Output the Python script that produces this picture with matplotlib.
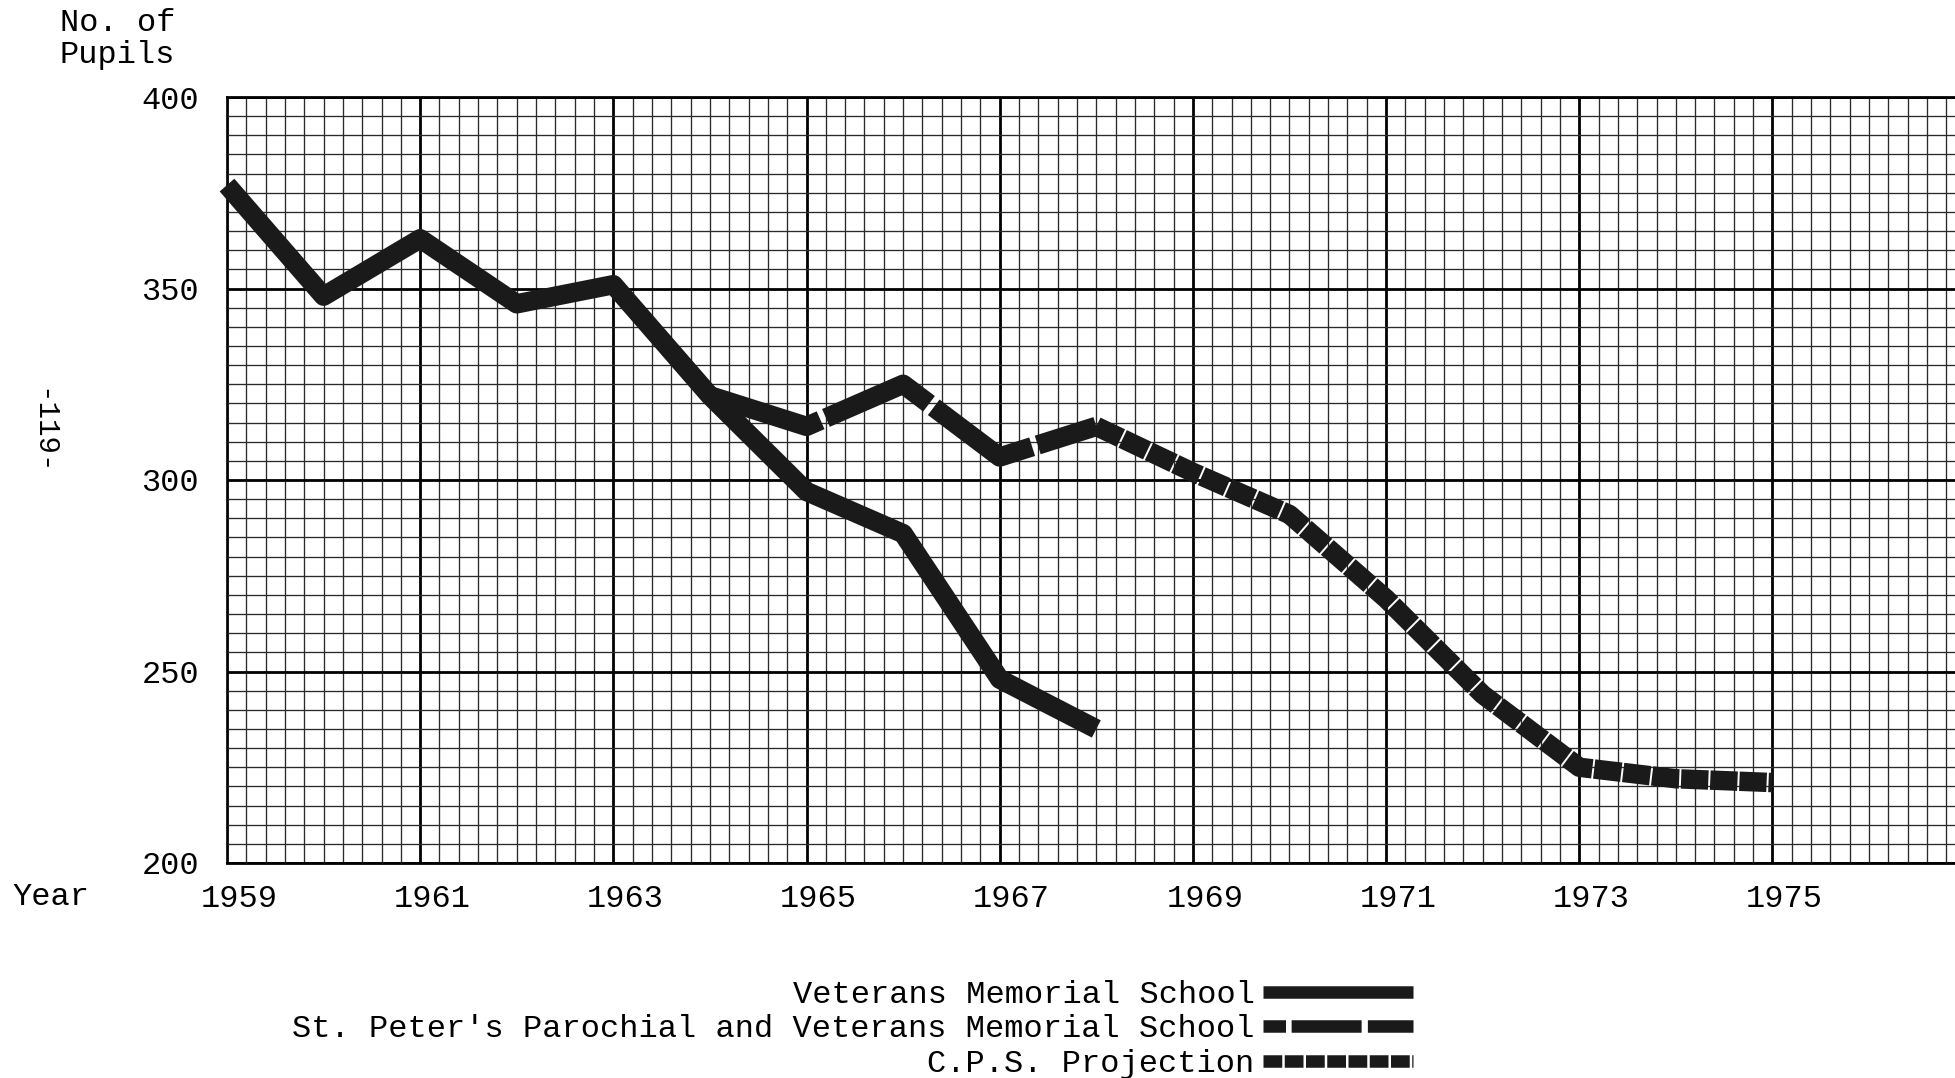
import numpy as np
import matplotlib
matplotlib.use("Agg")
import matplotlib.pyplot as plt
import matplotlib.transforms as mtransforms
from matplotlib.lines import Line2D

# values
vet_years = [1959, 1960, 1961, 1962, 1963, 1964, 1965, 1966, 1967, 1968]
vet_pupils = [377, 348, 363, 346, 351, 322, 297, 286, 248, 235]

stp_years = [1964, 1965, 1966, 1967, 1968]
stp_pupils = [322, 314, 325, 306, 314]

cps_years = [1968, 1969, 1970, 1971, 1972, 1973, 1974, 1975]
cps_pupils = [314, 302, 291, 269, 244, 225, 222, 221]

year_ticks = [1959, 1961, 1963, 1965, 1967, 1969, 1971, 1973, 1975]
pupil_ticks = [200, 250, 300, 350, 400]

legend_labels = ["Veterans Memorial School",
                 "St. Peter's Parochial and Veterans Memorial School",
                 "C.P.S. Projection"]

plt.rcParams['font.family'] = ['Liberation Mono', 'DejaVu Sans Mono']
FS = 23
INK = '#1a1a1a'

fig = plt.figure(figsize=(19.55, 10.78), dpi=100)
ax = fig.add_axes([227 / 1955, 1 - 863 / 1078, 1 - 227 / 1955, (863 - 97) / 1078])

# graph paper
ax.set_xlim(1959, 1976.89)
ax.set_ylim(200, 400)
ax.set_xticks(year_ticks)
ax.set_xticks(np.arange(1959, 1977, 0.2), minor=True)
ax.set_yticks(pupil_ticks)
ax.set_yticks(np.arange(200, 401, 5), minor=True)
ax.grid(which='minor', color='#2a2a2a', lw=0.95)
ax.grid(which='major', color='black', lw=2)
ax.set_axisbelow(True)
ax.tick_params(which='both', length=0)
ax.tick_params(axis='y', pad=20, labelsize=FS)
ax.tick_params(axis='x', pad=15, labelsize=FS)
for side in ['top', 'bottom']:
    ax.spines[side].set_linewidth(2)
ax.spines['left'].set_linewidth(1.2)
ax.spines['right'].set_visible(False)

# typed year labels sit a little right of the grid lines
shift = mtransforms.ScaledTranslation(12 / 100, 0, fig.dpi_scale_trans)
for lab in ax.get_xticklabels():
    lab.set_transform(lab.get_transform() + shift)

# the three curves
lw = 14
ax.plot(vet_years, vet_pupils, color=INK, lw=lw, solid_joinstyle='round',
        solid_capstyle='butt', clip_on=False, zorder=3)
ax.plot(stp_years, stp_pupils, color=INK, lw=lw, dashes=(6, 0.3),
        dash_joinstyle='round', dash_capstyle='butt', zorder=3)
ax.plot(cps_years, cps_pupils, color=INK, lw=lw, dashes=(1.4, 0.1),
        dash_joinstyle='round', dash_capstyle='butt', zorder=3)

# texts around the axes
fig.text(60 / 1955, 1 - 8 / 1078, "No. of\nPupils", fontsize=FS, va='top', ha='left',
         linespacing=1.1)
fig.text(12 / 1955, 1 - 897 / 1078, "Year", fontsize=FS, va='center', ha='left')
fig.text(42 / 1955, 1 - 432 / 1078, "-119-", fontsize=FS - 2, rotation=-90,
         va='center', ha='center')

# legend: labels to the left of the swatches
handles = [Line2D([], [], color=INK, lw=9, solid_capstyle='butt'),
           Line2D([], [], color=INK, lw=9, dashes=(1.8, 0.45, 5.6, 0.5, 30, 0.01),
                  dash_capstyle='butt'),
           Line2D([], [], color=INK, lw=9, dashes=(1.5, 0.2), dash_capstyle='butt')]
fig.legend(handles, legend_labels, markerfirst=False, frameon=False, fontsize=FS,
           loc='upper right', bbox_to_anchor=(1413 / 1955, 1 - 980 / 1078),
           borderpad=0, borderaxespad=0, handlelength=4.7, handletextpad=0.26,
           labelspacing=0.14)

fig.savefig("out.png", dpi=100)
